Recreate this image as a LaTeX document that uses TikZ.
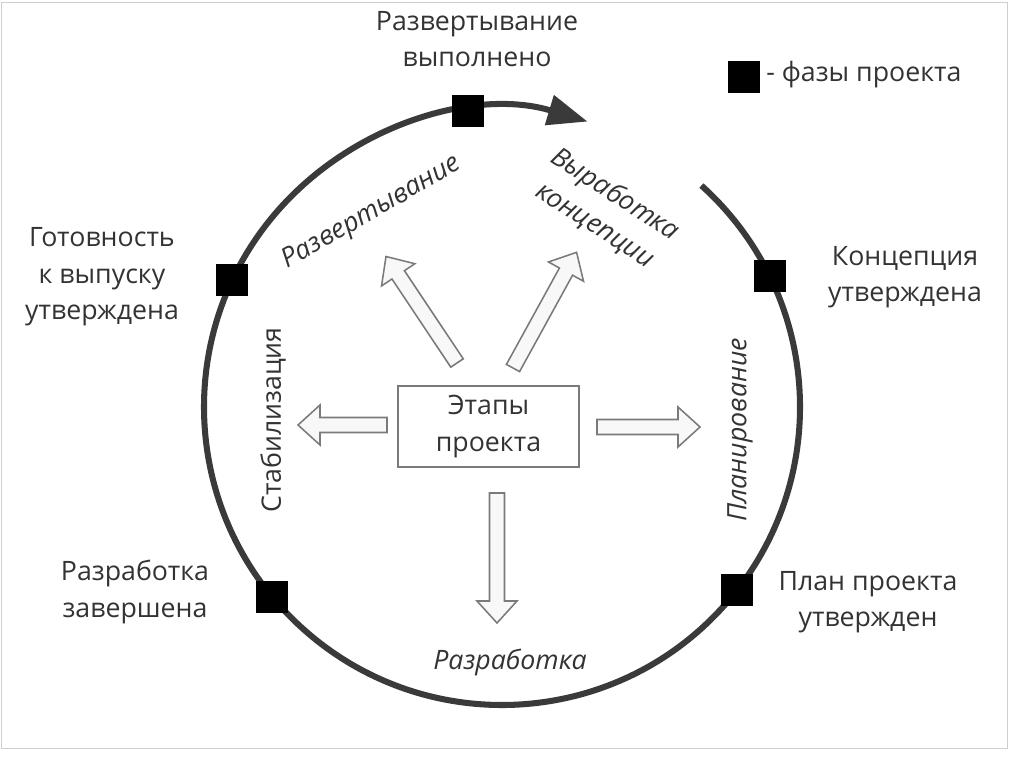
\documentclass[tikz,border=0pt]{standalone}
\usepackage{fontspec}
\setmainfont{Open Sans}
\usetikzlibrary{calc,arrows.meta}
\definecolor{ink}{HTML}{333333}
\definecolor{ringc}{HTML}{3A3A3A}
\definecolor{boxc}{HTML}{7A7A7A}
\definecolor{arrfill}{HTML}{F8F8F8}
\definecolor{framec}{HTML}{CFCFCF}
\newcommand{\blockarrow}[4]{%
  \begin{scope}[shift={(#1,#2)}, rotate=#3]
    \draw[barr] (0,-7.5) -- ({#4-22},-7.5) -- ({#4-22},-20) -- (#4,0)
      -- ({#4-22},20) -- ({#4-22},7.5) -- (0,7.5) -- cycle;
  \end{scope}}
\begin{document}
\begin{tikzpicture}[x=0.025cm, y=-0.025cm,
  lbl/.style={align=center, text=ink, inner sep=0,
    font=\fontsize{19}{26}\selectfont},
  ital/.style={align=center, text=ink, inner sep=0,
    font=\fontsize{19}{26}\selectfont\itshape},
  phase/.style={fill=black, minimum size=0.8cm, inner sep=0},
  ring/.style={draw=ringc, line width=4.3pt},
  barr/.style={draw=boxc, fill=arrfill, line width=1.1pt, line join=miter},
  stagebox/.style={draw=boxc, line width=1.4pt, minimum width=4.525cm,
    minimum height=2.025cm, align=center, text=ink,
    font=\fontsize{19}{26}\selectfont}]
\useasboundingbox (0,0) rectangle (1024,767);
\draw[framec, line width=0.6pt] (1,2) rectangle (1007,748);

\coordinate (C) at (502,407);
% ring with arrow
\draw[ring, -{Triangle[length=1cm, width=0.75cm]}]
  ($(C)+(-48:298)$) arc[start angle=-48, end angle=286.7, radius=298];

% phases
\node[phase] (sTop)  at ($(C)+(-96.5:298)$) {};
\node[phase] (sLU)   at ($(C)+(-154.8:298)$) {};
\node[phase] (sRU)   at ($(C)+(-26.1:298)$) {};
\node[phase] (sLD)   at ($(C)+(140.4:298)$) {};
\node[phase] (sRD)   at ($(C)+(38:298)$) {};

% legend
\node[phase] (leg) at (744,77) {};
\node[lbl, anchor=west] (legt) at (766,75) {- фазы проекта};

% phase labels
\node[lbl] (lTop) at (477,39) {Развертывание\\выполнено};
\node[lbl] (lLU)  at (102,277) {Готовность\\к выпуску\\утверждена};
\node[lbl] (lRU)  at (905,277) {Концепция\\утверждена};
\node[lbl] (lLD)  at (135,592) {Разработка\\завершена};
\node[lbl] (lRD)  at (868,602) {План проекта\\утвержден};

% stage labels
\node[ital, rotate=30] (gDep) at (372,213) {Развертывание};
\node[ital, rotate=-33] (gCon) at (605,210) {Выработка\\концепции};
\node[lbl, rotate=90] (gStab) at (273,420) {Стабилизация};
\node[ital, rotate=90] (gPlan) at (740,430) {Планирование};
\node[ital] (gDev) at (510,662) {Разработка};

% center box
\node[stagebox] (box) at (488.5,426.5) {Этапы\\проекта};

% block arrows
\blockarrow{597}{427}{0}{103}
\blockarrow{497}{493}{-90}{130}
\blockarrow{387}{425}{180}{89}
\blockarrow{457}{363}{123.7}{128}
\blockarrow{513}{368}{61.2}{132}
\end{tikzpicture}
\end{document}
